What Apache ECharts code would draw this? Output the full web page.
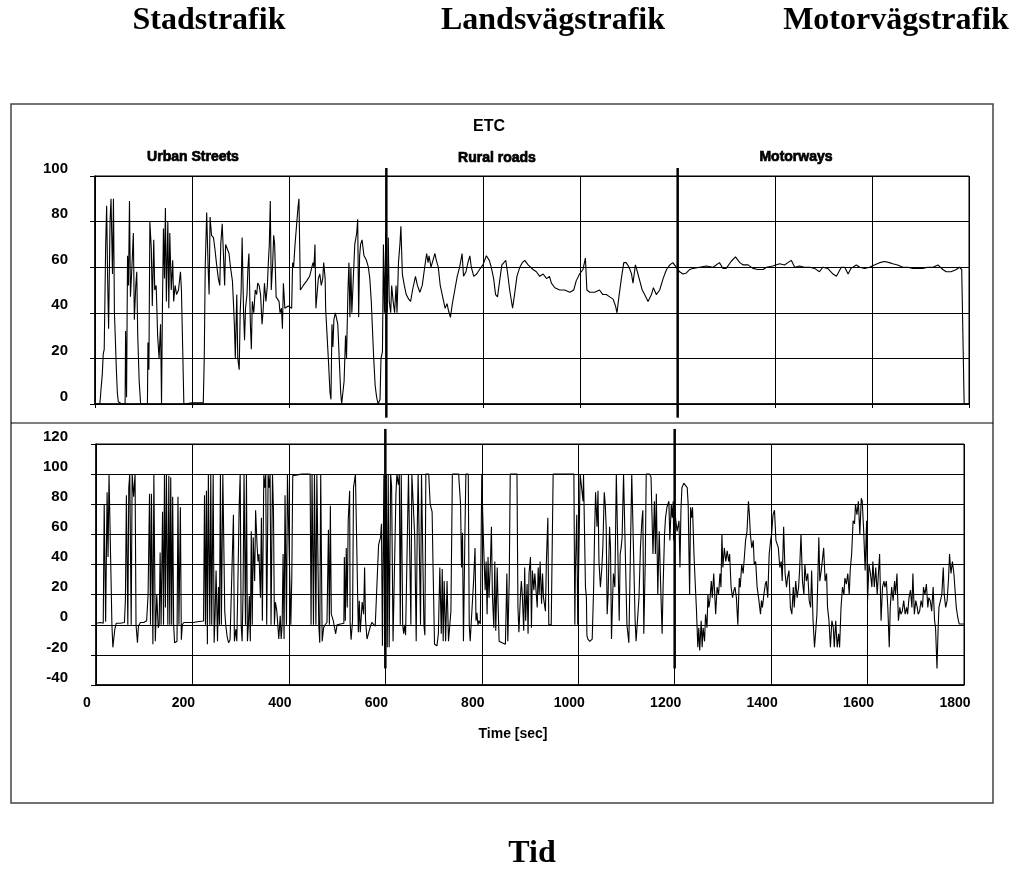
<!DOCTYPE html>
<html>
<head>
<meta charset="utf-8">
<title>ETC</title>
<script src="https://cdn.jsdelivr.net/npm/echarts@6/dist/echarts.min.js"></script>
<style>
  html, body { margin: 0; padding: 0; background: #fff; }
  #main { width: 1023px; height: 869px; }
</style>
</head>
<body>
<div id="main"></div>
<script>
// section borders (sec)
const sectionBounds = [600, 1200]
const sectionNames = ['Urban Streets', 'Rural roads', 'Motorways']
const phaseNames = ['Stadstrafik', 'Landsvägstrafik', 'Motorvägstrafik']

// upper panel: vehicle speed, [time, value]
const speedData = [
  [0,0],[10,0],[13,8],[15,13],[17,22],[19,24],[22,70],[24,87],[26,55],[28,33],[31,80],[33,90],
  [36,57],[38,90],[40,40],[42,28],[44,15],[46,5],[48,1],[55,0],[62,0],[63,32],[65,3],[67,65],
  [69,52],[71,89],[73,47],[76,60],[79,75],[81,37],[84,52],[86,58],[88,30],[91,10],[94,0],[108,0],
  [109,27],[111,15],[113,80],[116,68],[118,43],[121,72],[123,50],[126,52],[129,30],[132,20],[135,35],[137,0],
  [139,45],[141,77],[143,55],[145,86],[147,45],[150,80],[152,42],[154,75],[157,50],[160,63],[162,45],[165,52],
  [168,48],[172,50],[176,58],[178,50],[180,30],[183,0],[200,0.5],[223,0.5],[225,20],[227,60],[230,84],[233,60],
  [235,48],[237,82],[240,74],[244,73],[247,68],[250,62],[254,55],[257,52],[259,70],[262,79],[265,63],[267,52],
  [269,70],[272,70],[276,66],[279,60],[283,54],[285,45],[287,35],[289,20],[292,48],[294,20],[297,15],[299,40],
  [301,50],[303,73],[306,40],[308,28],[310,42],[313,48],[315,60],[317,66],[320,35],[322,24],[324,45],[327,40],
  [330,50],[333,48],[335,53],[338,52],[341,48],[344,35],[346,40],[349,53],[352,45],[355,52],[357,62],[359,70],
  [361,89],[363,50],[366,62],[368,74],[370,70],[373,47],[376,46],[379,45],[381,40],[384,42],[386,33],[388,53],
  [391,42],[398,43],[405,42],[407,62],[409,60],[412,70],[415,78],[418,86],[420,90],[423,50],[429,52],[436,54],
  [442,56],[446,56],[449,62],[451,60],[453,70],[455,42],[458,50],[460,55],[463,57],[466,52],[469,55],[471,62],
  [474,55],[475,42],[478,30],[481,18],[484,5],[486,2],[488,35],[490,25],[492,37],[495,40],[497,40],[500,35],
  [503,20],[506,5],[508,0],[511,0],[513,10],[516,30],[518,20],[521,50],[523,62],[525,38],[527,60],[529,40],
  [532,55],[535,70],[539,75],[541,81],[543,38],[545,65],[547,70],[550,72],[554,65],[559,63],[563,60],[566,55],
  [569,45],[571,35],[574,20],[577,8],[580,3],[583,0],[587,2],[589,20],[592,23],[594,70],[596,40],[599,75],
  [602,40],[604,73],[606,45],[609,40],[611,52],[614,45],[617,40],[620,52],[622,40],[625,62],[628,70],[630,78],
  [633,57],[637,52],[641,48],[646,46],[650,45],[654,50],[660,56],[664,52],[669,49],[674,52],[679,60],[683,66],
  [686,62],[688,65],[692,60],[696,63],[700,66],[703,63],[707,60],[711,52],[717,46],[721,42],[725,44],[728,41],
  [732,38],[736,44],[741,50],[746,56],[751,60],[756,66],[759,56],[764,58],[768,62],[772,65],[775,60],[780,56],
  [786,57],[792,59],[799,61],[806,65],[812,63],[816,60],[821,55],[825,48],[829,47],[834,55],[838,61],[842,62],
  [846,63],[850,57],[854,50],[860,42],[864,48],[869,56],[875,60],[880,62],[885,63],[892,61],[902,59],[909,58],
  [916,56],[923,57],[930,55],[936,56],[940,53],[947,51],[957,50],[967,50],[978,49],[986,50],[991,54],[998,57],
  [1005,59],[1010,64],[1013,50],[1019,49],[1029,49],[1039,50],[1046,48],[1053,48],[1060,47],[1067,46],[1072,43],[1075,40],
  [1079,47],[1084,55],[1089,62],[1094,62],[1100,60],[1105,57],[1108,53],[1113,61],[1117,58],[1122,54],[1127,50],[1132,48],
  [1139,45],[1146,48],[1150,51],[1156,48],[1163,50],[1170,55],[1177,59],[1184,61],[1190,62],[1197,60],[1204,58],[1211,57],
  [1218,57.5],[1225,59],[1232,59.5],[1245,60],[1259,60.5],[1273,60],[1286,62],[1293,59.5],[1300,59.5],[1310,62.5],[1319,64.5],[1328,62],
  [1335,61],[1345,61],[1355,59.5],[1365,59],[1376,59],[1383,60],[1396,60.5],[1410,61.5],[1420,61],[1427,62],[1434,63],[1441,60],
  [1451,60.5],[1461,60],[1472,60],[1482,59.5],[1492,58],[1499,60],[1509,59.5],[1520,57],[1527,56],[1537,60],[1544,60],[1551,57],
  [1557,59.5],[1568,61],[1575,60],[1585,59.5],[1595,60],[1605,61],[1616,62],[1626,62.5],[1636,62],[1643,61.5],[1653,61],[1664,60],
  [1674,60],[1684,59.5],[1695,59.5],[1705,59.5],[1715,60],[1726,60],[1736,61],[1746,59],[1753,58],[1763,58],[1774,59],[1780,60],
  [1785,59],[1790,0],[1800,0]
]

// lower panel: pedal signal, [time, value]
const pedalData = [
  [0,1],[9,1.5],[12,2.7],[15,1],[17,80],[20,2],[23,88],[25,45],[27,100],[31,100],[33,0],[35,-15],
  [39,-3],[42,1],[50,1],[59,1.5],[61,17],[63,86],[66,0],[68,91],[70,100],[73,0],[75,100],[78,85],
  [81,100],[83,0],[86,-12],[88,-1],[92,1.5],[99,1.5],[105,2.7],[108,20],[111,87],[113,0],[115,87],[118,-13],
  [120,100],[123,-11],[126,20],[129,-2],[131,0],[133,48],[135,0],[138,75],[140,0],[142,100],[144,11.5],[146,100],
  [149,0],[151,99],[153,0],[155,98],[157,0],[159,85],[161,0],[163,-12],[166,-12],[168,-11],[170,85],[172,0],
  [175,78],[177,-10],[179,0],[182,1.5],[202,1.5],[210,2],[223,2.5],[225,86],[227,0],[229,89],[231,-13],[233,100],
  [236,0],[238,100],[240,0],[243,100],[245,-12],[247,7],[249,36],[252,-11],[254,25],[256,0],[258,100],[260,0],
  [263,100],[265,100],[267,9],[269,0],[272,-8],[275,-12],[278,-10],[282,-11],[285,73],[287,-11],[290,-3],[292,-11],
  [294,23],[297,80],[299,100],[301,0],[303,-11],[305,23],[307,100],[310,0],[312,100],[314,-11],[316,0],[318,19],
  [320,-11],[322,62],[324,0],[326,58],[329,29],[331,76],[334,53],[336,42],[338,47],[341,18],[343,71],[345,2.7],
  [348,100],[350,91],[352,100],[354,0],[357,100],[359,91],[361,100],[363,0],[366,100],[368,76],[370,0],[372,15],
  [375,9],[377,0],[379,-9.5],[382,6],[384,-9.5],[386,0],[388,47],[390,-9.5],[392,86],[395,0],[397,100],[399,99],
  [401,100],[404,0],[406,31],[408,99],[411,100],[427,100],[444,100],[446,0],[448,100],[451,0],[453,100],[456,0],
  [458,100],[462,0],[464,-12],[466,100],[469,-11],[472,-2],[475,0],[479,1.5],[482,63],[484,0],[486,79],[488,7],
  [492,2.7],[497,-6],[500,0],[503,1],[514,1],[515,45],[517,2.7],[519,51],[521,11.5],[523,69],[526,89],[527,1.5],
  [529,-10],[532,2.7],[534,91],[538,100],[541,100],[544,-5],[546,16],[548,-5],[552,15],[555,7],[557,38],[559,2.7],
  [562,-9.5],[566,-10],[569,-1],[572,1.5],[576,0.5],[579,-1],[583,-1],[586,53],[590,58],[592,67],[594,-14],[597,100],
  [599,-17],[602,100],[604,-15],[606,100],[608,-15],[611,100],[613,92],[616,-11],[619,-12],[622,87],[624,100],[627,93],
  [629,100],[631,0],[633,100],[636,0],[638,-6],[640,0],[642,-7],[645,-7],[648,100],[651,100],[653,0],[655,100],
  [659,100],[661,58],[664,-11],[666,59],[668,100],[671,100],[673,0],[675,100],[678,100],[680,0],[682,-7],[684,100],
  [687,100],[690,100],[693,80],[697,75],[699,38],[702,-13],[705,-14],[707,-14],[710,-6],[713,38],[716,-6],[718,37],
  [720,-11],[722,29],[725,-11],[728,29],[731,-11],[734,-11],[736,9],[739,100],[742,100],[745,100],[749,100],[752,100],
  [756,80],[758,38],[760,61],[762,-11],[765,60],[767,100],[769,100],[772,100],[774,0],[776,-11],[780,-11],[783,29],
  [786,51],[788,2.7],[790,8],[792,0],[794,2.7],[797,0.5],[800,100],[802,73],[804,51],[807,23],[809,42],[811,7],
  [813,45],[815,18],[818,42],[820,65],[822,20],[825,-2],[827,42],[829,-4],[832,38],[834,11.5],[836,-11],[839,-12],
  [842,-12],[845,-13],[849,-13],[852,34],[854,-11],[857,31],[859,100],[863,100],[866,100],[870,100],[873,100],[875,11.5],
  [877,-5],[880,18],[882,29],[884,20],[887,-4],[889,38],[891,2.7],[894,27],[896,-6],[898,34],[901,45],[903,-2],
  [905,36],[908,23],[910,34],[912,25],[915,11.5],[917,38],[919,20],[921,42],[924,14],[926,34],[928,18],[932,9],
  [934,42],[937,71],[939,0],[941,0],[944,0],[948,100],[970,100],[991,100],[993,0],[994,34],[997,73],[999,0],
  [1002,0],[1004,100],[1007,100],[1010,82],[1011,100],[1015,25],[1017,18],[1018,-7],[1020,-9.5],[1024,-11],[1027,-11],[1029,-9.5],
  [1032,25],[1034,62],[1036,88],[1039,65],[1041,89],[1043,42],[1046,25],[1049,38],[1051,51],[1054,88],[1056,80],[1058,65],
  [1060,7],[1062,20],[1065,65],[1067,51],[1069,-9.5],[1071,14],[1073,34],[1076,25],[1079,100],[1082,100],[1085,2.7],[1087,47],
  [1089,51],[1091,58],[1094,100],[1098,100],[1101,0],[1105,-12],[1108,-11],[1111,100],[1115,100],[1118,2.7],[1120,-11],[1123,-11],
  [1126,18],[1129,51],[1132,69],[1134,76],[1136,-6],[1139,42],[1141,100],[1144,100],[1148,100],[1151,98],[1155,47],[1158,82],
  [1160,47],[1162,87],[1165,20],[1168,62],[1171,25],[1174,-6],[1176,25],[1179,60],[1181,71],[1184,78],[1188,82],[1190,56],
  [1193,80],[1195,71],[1197,82],[1198,56],[1200,76],[1205,62],[1209,69],[1211,38],[1213,76],[1215,91],[1219,94],[1222,93],
  [1226,91],[1228,80],[1231,20],[1233,78],[1235,71],[1237,78],[1240,47],[1243,25],[1245,11.5],[1248,-15],[1250,-2],[1252,-17],
  [1255,2.7],[1257,-15],[1259,-2],[1262,-11],[1264,7],[1267,-2],[1269,20],[1271,11.5],[1273,16],[1276,29],[1278,18],[1281,34],
  [1285,7],[1288,25],[1291,20],[1294,34],[1296,25],[1298,60],[1300,38],[1303,51],[1306,42],[1309,49],[1312,42],[1314,47],
  [1317,25],[1320,18],[1323,23],[1325,25],[1328,18],[1331,0],[1334,31],[1336,25],[1339,40],[1342,34],[1345,47],[1347,56],
  [1350,62],[1353,82],[1355,73],[1357,60],[1360,51],[1363,56],[1365,40],[1368,42],[1371,25],[1374,18],[1378,7],[1380,16],
  [1382,11.5],[1385,20],[1388,27],[1390,29],[1393,18],[1396,47],[1399,56],[1401,60],[1404,73],[1407,76],[1410,56],[1412,54],
  [1415,51],[1418,38],[1421,42],[1423,29],[1426,65],[1429,34],[1432,25],[1434,31],[1437,36],[1440,11.5],[1443,7],[1446,25],
  [1448,11.5],[1451,29],[1454,18],[1457,25],[1459,36],[1462,60],[1465,29],[1468,20],[1470,40],[1473,29],[1476,34],[1479,16],
  [1482,11.5],[1484,36],[1487,2.7],[1490,-15],[1493,-2],[1495,7],[1499,58],[1501,29],[1504,36],[1506,42],[1509,51],[1512,29],
  [1515,34],[1517,11.5],[1520,2.7],[1523,-15],[1526,2.7],[1529,-2],[1531,-15],[1534,2.7],[1537,-15],[1540,-6],[1542,-15],[1545,11.5],
  [1548,25],[1551,20],[1553,31],[1556,27],[1559,34],[1562,20],[1564,36],[1567,47],[1570,69],[1573,67],[1575,80],[1578,73],
  [1581,82],[1584,60],[1587,84],[1589,82],[1592,62],[1595,36],[1598,69],[1600,16],[1603,40],[1606,34],[1609,25],[1611,42],
  [1614,25],[1617,38],[1620,20],[1622,31],[1625,47],[1628,2.7],[1631,25],[1634,29],[1636,25],[1639,29],[1642,11.5],[1645,-15],
  [1647,11.5],[1650,25],[1653,16],[1656,29],[1658,20],[1661,34],[1664,2.7],[1667,11.5],[1669,7],[1672,9],[1675,16],[1678,7],
  [1681,11.5],[1683,7],[1686,18],[1689,23],[1692,11.5],[1694,34],[1697,7],[1700,16],[1703,11.5],[1705,7],[1708,9],[1711,16],
  [1714,11.5],[1716,25],[1719,20],[1722,27],[1725,11.5],[1727,18],[1730,16],[1733,9],[1736,25],[1739,2.7],[1741,-2],[1744,-29],
  [1746,-6],[1748,11.5],[1751,11.5],[1754,20],[1757,38],[1759,20],[1762,11.5],[1765,16],[1768,31],[1770,47],[1773,34],[1776,42],
  [1779,34],[1781,25],[1784,11.5],[1787,5],[1790,0.5],[1792,0],[1800,0.5]
]

const sansFont = '"Liberation Sans", Arial, sans-serif'
const serifFont = '"Liberation Serif", "Times New Roman", serif'
const axisText = { color: '#000', fontFamily: sansFont, fontWeight: 'bold' }
const blackLine = { color: '#000', width: 1 }

const chart = echarts.init(document.getElementById('main'), null, { renderer: 'canvas' })

// thick separators between the three road types
const sepSeries = []
sectionBounds.forEach(t => {
  sepSeries.push({
    type: 'line', xAxisIndex: 0, yAxisIndex: 0, clip: false, symbol: 'none', silent: true,
    lineStyle: { color: '#000', width: 2.5 }, data: [[t, 103.5], [t, -6]]
  })
  sepSeries.push({
    type: 'line', xAxisIndex: 1, yAxisIndex: 1, clip: false, symbol: 'none', silent: true,
    lineStyle: { color: '#000', width: 2.5 }, data: [[t, 130], [t, -29]]
  })
})

const headingPos = [209, 553, 896]
const sectionPos = [[193, 157], [497, 158], [796, 157]]

const graphics = [
  { type: 'rect', shape: { x: 11, y: 104, width: 982, height: 699 },
    style: { fill: 'none', stroke: '#444', lineWidth: 1.5 } },
  { type: 'line', shape: { x1: 11, y1: 423, x2: 993, y2: 423 },
    style: { stroke: '#000', lineWidth: 1.2 } },
  { type: 'text', x: 489, y: 127,
    style: { text: 'ETC', font: 'bold 16px ' + sansFont, fill: '#000', textAlign: 'center', textVerticalAlign: 'middle' } },
  { type: 'text', x: 532, y: 854,
    style: { text: 'Tid', font: 'bold 32px ' + serifFont, fill: '#000', textAlign: 'center', textVerticalAlign: 'middle' } }
]
phaseNames.forEach((name, i) => {
  graphics.push({ type: 'text', x: headingPos[i], y: 21,
    style: { text: name, font: 'bold 32px ' + serifFont, fill: '#000', textAlign: 'center', textVerticalAlign: 'middle' } })
})
sectionNames.forEach((name, i) => {
  graphics.push({ type: 'text', x: sectionPos[i][0], y: sectionPos[i][1],
    style: { text: name, font: 'bold 14px ' + sansFont, fill: '#000', stroke: '#000', lineWidth: 0.7,
      textAlign: 'center', textVerticalAlign: 'middle' } })
})

const yLabel = (margin) => ({
  ...axisText, fontSize: 15, margin: margin, verticalAlign: 'bottom', lineHeight: 15
})

const option = {
  animation: false,
  backgroundColor: '#fff',
  grid: [
    { left: 95, right: 54, top: 176, height: 228, show: true, borderColor: '#000', borderWidth: 1 },
    { left: 96, right: 59, top: 444, height: 241, show: true, borderColor: '#000', borderWidth: 1 }
  ],
  xAxis: [
    {
      gridIndex: 0, type: 'value', min: 0, max: 1800, interval: 200,
      axisLabel: { show: false },
      axisTick: { show: true, length: 4, lineStyle: blackLine },
      axisLine: { lineStyle: { color: '#000', width: 1.5 } },
      splitLine: { show: true, lineStyle: blackLine }
    },
    {
      gridIndex: 1, type: 'value', min: 0, max: 1800, interval: 200,
      axisLabel: {
        ...axisText, fontSize: 14, margin: 11, padding: [0, 18, 0, 0],
        formatter: v => String(v)
      },
      axisTick: { show: false },
      axisLine: { onZero: false, lineStyle: { color: '#000', width: 1.5 } },
      splitLine: { show: true, lineStyle: blackLine },
      name: 'Time [sec]', nameLocation: 'middle', nameGap: 42,
      nameTextStyle: { ...axisText, fontSize: 14, padding: [0, 34, 0, 0] }
    }
  ],
  yAxis: [
    {
      gridIndex: 0, type: 'value', min: 0, max: 100, interval: 20,
      axisLabel: yLabel(27),
      axisTick: { show: true, length: 5, lineStyle: blackLine },
      axisLine: { show: true, lineStyle: { color: '#000', width: 1.5 } },
      splitLine: { show: true, lineStyle: blackLine }
    },
    {
      gridIndex: 1, type: 'value', min: -40, max: 120, interval: 20,
      axisLabel: yLabel(28),
      axisTick: { show: true, length: 5, lineStyle: blackLine },
      axisLine: { show: true, lineStyle: { color: '#000', width: 1.5 } },
      splitLine: { show: true, lineStyle: blackLine }
    }
  ],
  graphic: graphics,
  series: [
    {
      name: 'speed', type: 'line', xAxisIndex: 0, yAxisIndex: 0,
      data: speedData, symbol: 'none', lineStyle: { color: '#000', width: 1.1 }
    },
    {
      name: 'pedal', type: 'line', xAxisIndex: 1, yAxisIndex: 1,
      data: pedalData, symbol: 'none', lineStyle: { color: '#000', width: 1.1 }
    },
    ...sepSeries
  ]
}

chart.setOption(option)
</script>
</body>
</html>
